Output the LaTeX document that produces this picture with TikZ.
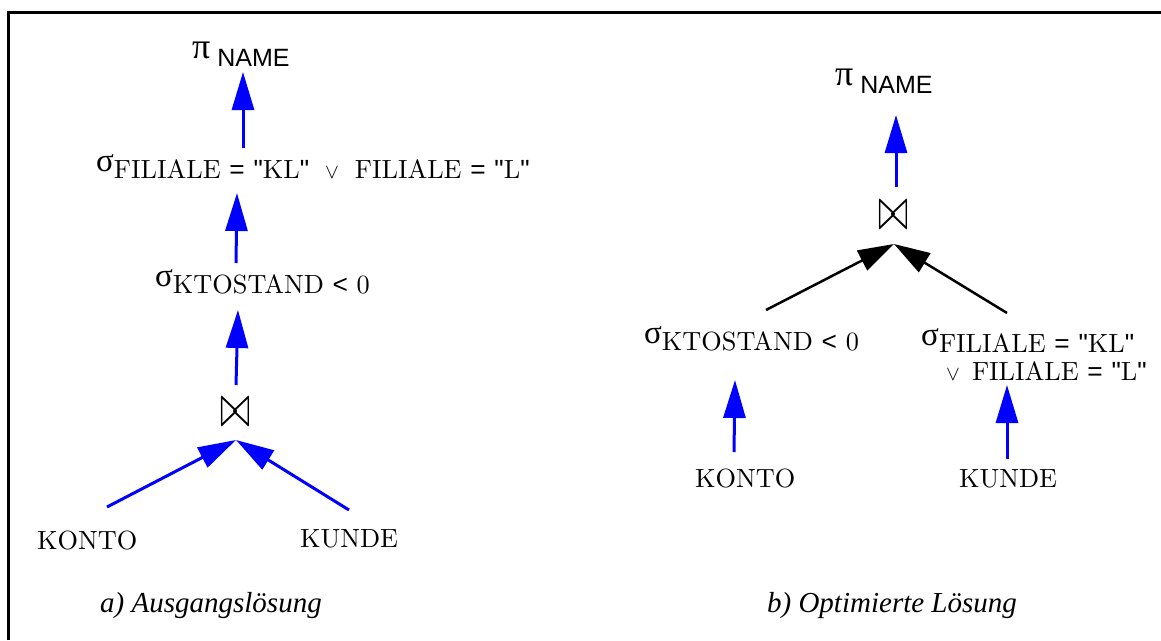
\documentclass[tikz,border=0pt]{standalone}
\usepackage{fontspec}
\usepackage{graphicx}
\usetikzlibrary{arrows.meta}
\setmainfont{lmroman10-regular.otf}
\newfontfamily\hv{Liberation Sans}
\newfontfamily\tms{Liberation Serif}
\newcommand\sg{\raisebox{7pt}{\tms\fontsize{33}{33}\selectfont σ}}
\newcommand\mypi{\raisebox{8pt}{\tms\fontsize{36}{36}\selectfont π}}
\newcommand\myname{{\hv\fontsize{25}{25}\selectfont NAME}}
\newcommand\myq{{\hv"}}
\newcommand\myeq{{\hv=}}
\newcommand\mylt{{\hv<}}
\newcommand\myor{{\fontsize{20}{20}\selectfont$\vee$}}
\newcommand\myjoin{\resizebox{30pt}{28pt}{$\bowtie$}}
\begin{document}
\begin{tikzpicture}[x=1pt,y=-1pt,
  lbl/.style={inner sep=0pt, anchor=base west, font=\fontsize{26.3}{28}\selectfont},
  opnode/.style={inner sep=0pt},
  captxt/.style={inner sep=0pt, anchor=base, font=\tms\itshape\fontsize{29}{30}\selectfont},
  barr/.style={draw=blue, line width=3pt, -{Triangle[length=38pt,width=22pt]}},
  karr/.style={draw=black, line width=2.5pt, -{Triangle[length=36pt,width=22pt]}},
  frame/.style={line width=3pt, line cap=butt}]
\useasboundingbox (0,0) rectangle (1161,640);
\draw[frame] (8.5,640) -- (8.5,12.5) -- (1161,12.5);

% ---------- a) ----------
\node[lbl] (pi1) at (192,66) {\mypi\hspace{7pt}\myname};
\node[lbl] (s1) at (96,178) {\sg FILIALE \myeq{} \myq KL\myq\hspace{16pt}\myor\hspace{16pt}FILIALE \myeq{} \myq L\myq};
\node[lbl] (s2) at (155,293) {\sg KTOSTAND \mylt{} 0};
\node[opnode] (j1) at (235,412) {\myjoin};
\node[lbl] (k1) at (37,549) {KONTO};
\node[lbl] (u1) at (300,547) {KUNDE};
\node[captxt] (ca) at (211,612) {a) Ausgangslösung};

\draw[barr] ([shift={(147,-30)}]s1.base west) -- ([shift={(51,6)}]pi1.base west);
\draw[barr] ([shift={(81,-30)}]s2.base west) -- ([shift={(141,15)}]s1.base west);
\draw[barr] ([shift={(1,-27)}]j1.center) -- ([shift={(83,17)}]s2.base west);
\draw[barr] ([shift={(70,-42)}]k1.base west) -- ([shift={(1,28)}]j1.center);
\draw[barr] ([shift={(49,-37)}]u1.base west) -- ([shift={(1,28)}]j1.center);

% ---------- b) ----------
\node[lbl] (pi2) at (835,93) {\mypi\hspace{7pt}\myname};
\node[opnode] (j2) at (893,215) {\myjoin};
\node[lbl] (s3) at (644,350) {\sg KTOSTAND \mylt{} 0};
\node[lbl] (s4) at (921,352) {\vtop{\baselineskip=28pt
  \hbox{\sg FILIALE \myeq{} \myq KL\myq}
  \hbox{\hspace{25pt}\myor\hspace{12pt}FILIALE \myeq{} \myq L\myq}}};
\node[lbl] (k2) at (695,487) {KONTO};
\node[lbl] (u2) at (959,487) {KUNDE};
\node[captxt] (cb) at (892,612) {b) Optimierte Lösung};

\draw[barr] ([shift={(3,-28)}]j2.center) -- ([shift={(61,22)}]pi2.base west);
\draw[karr] ([shift={(122,-40)}]s3.base west) -- ([shift={(1,29)}]j2.center);
\draw[karr] ([shift={(86,-39)}]s4.base west) -- ([shift={(1,29)}]j2.center);
\draw[barr] ([shift={(39,-35)}]k2.base west) -- ([shift={(91,30)}]s3.base west);
\draw[barr] ([shift={(48,-28)}]u2.base west) -- ([shift={(86,33)}]s4.base west);
\end{tikzpicture}
\end{document}
